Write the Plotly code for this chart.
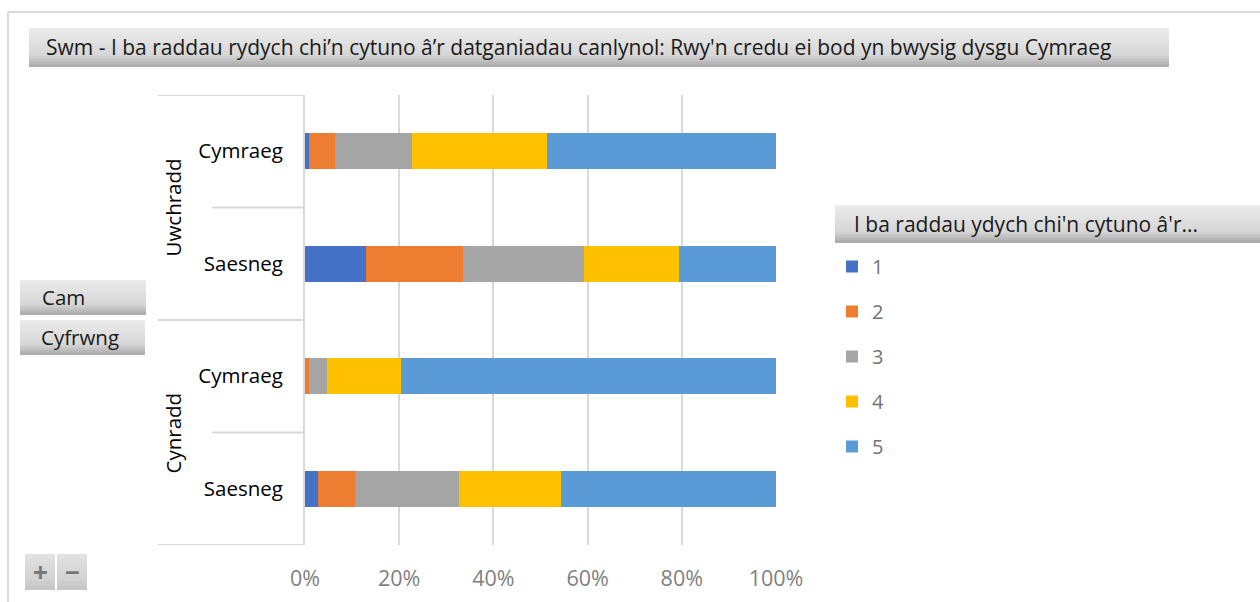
import plotly.graph_objects as go

# ---- data ----
groups = ["Uwchradd", "Cynradd"]
media = ["Cymraeg", "Saesneg", "Cymraeg", "Saesneg"]
levels = ["1", "2", "3", "4", "5"]
s1 = [0.009, 0.129, 0.000, 0.028]
s2 = [0.054, 0.206, 0.009, 0.078]
s3 = [0.165, 0.258, 0.037, 0.220]
s4 = [0.285, 0.201, 0.157, 0.218]
s5 = [0.487, 0.206, 0.797, 0.456]
series = [s1, s2, s3, s4, s5]
colors = ["#4472C4", "#ED7D31", "#A5A5A5", "#FFC000", "#5B9BD5"]
x_ticks = [0, 0.2, 0.4, 0.6, 0.8, 1.0]

title_text = "Swm - I ba raddau rydych chi\u2019n cytuno \u00e2\u2019r datganiadau canlynol: Rwy'n credu ei bod yn bwysig dysgu Cymraeg"
legend_title = "I ba raddau ydych chi'n cytuno \u00e2'r..."

W, H = 1260, 602
FONT = "Open Sans"


def px(x):
    return x / W


def py(y):
    return 1 - y / H


positions = list(range(len(media)))

fig = go.Figure()
for name, vals, col in zip(levels, series, colors):
    fig.add_trace(go.Bar(
        x=vals, y=positions, orientation="h", name=name,
        marker=dict(color=col, line=dict(width=0)),
        width=0.32, legendgroup=name,
    ))

shapes = []
annotations = []


def lerp(c1, c2, t):
    return "#%02x%02x%02x" % tuple(int(round(a + (b - a) * t)) for a, b in zip(c1, c2))


def button(x0, y0, x1, y1, top=(0xec, 0xec, 0xec), mid=(0xd6, 0xd6, 0xd6), bot=(0xa8, 0xa6, 0xa6), n=14):
    h = y1 - y0
    for i in range(n):
        t = (i + 0.5) / n
        if t < 0.7:
            c = lerp(top, mid, t / 0.7)
        else:
            c = lerp(mid, bot, (t - 0.7) / 0.3)
        ya = y0 + h * i / n
        yb = y0 + h * (i + 1) / n + 0.6
        shapes.append(dict(type="rect", xref="paper", yref="paper",
                           x0=px(x0), x1=px(x1), y0=py(ya), y1=py(min(yb, y1)),
                           fillcolor=c, line=dict(width=0), layer="below"))


# outer chart border
shapes.append(dict(type="line", xref="paper", yref="paper", x0=px(8), x1=1, y0=py(12), y1=py(12),
                   line=dict(color="#d9d9d9", width=2)))
shapes.append(dict(type="line", xref="paper", yref="paper", x0=px(8), x1=px(8), y0=py(12), y1=0,
                   line=dict(color="#d9d9d9", width=2)))

# title button
button(29, 28, 1169, 67)
annotations.append(dict(text=title_text, xref="paper", yref="paper", x=px(44), y=py(47),
                        xanchor="left", yanchor="middle", showarrow=False,
                        font=dict(family=FONT, size=21, color="#1a1a1a")))

# legend header button
button(835, 205, 1260, 243)
annotations.append(dict(text=legend_title, xref="paper", yref="paper", x=px(852), y=py(224),
                        xanchor="left", yanchor="middle", showarrow=False,
                        font=dict(family=FONT, size=21, color="#1a1a1a")))

# field buttons
button(20, 280, 146, 315)
annotations.append(dict(text="Cam", xref="paper", yref="paper", x=px(40), y=py(297),
                        xanchor="left", yanchor="middle", showarrow=False,
                        font=dict(family=FONT, size=20.5, color="#1a1a1a")))
button(20, 320, 145, 355)
annotations.append(dict(text="Cyfrwng", xref="paper", yref="paper", x=px(39), y=py(337),
                        xanchor="left", yanchor="middle", showarrow=False,
                        font=dict(family=FONT, size=20.5, color="#1a1a1a")))

# +/- buttons
button(25, 554, 55, 590, top=(0xe2, 0xe2, 0xe2), mid=(0xd2, 0xd2, 0xd2), bot=(0xc4, 0xc4, 0xc4), n=8)
button(57, 554, 87, 590, top=(0xe2, 0xe2, 0xe2), mid=(0xd2, 0xd2, 0xd2), bot=(0xc4, 0xc4, 0xc4), n=8)
annotations.append(dict(text="<b>+</b>", xref="paper", yref="paper", x=px(40), y=py(572),
                        xanchor="center", yanchor="middle", showarrow=False,
                        font=dict(family=FONT, size=26, color="#777777")))
annotations.append(dict(text="<b>\u2212</b>", xref="paper", yref="paper", x=px(72), y=py(572),
                        xanchor="center", yanchor="middle", showarrow=False,
                        font=dict(family=FONT, size=26, color="#777777")))

# multi-level category separators
sep = dict(color="#d9d9d9", width=2)
for yv in [-0.5, 1.5, 3.5]:
    shapes.append(dict(type="line", xref="paper", yref="y", x0=px(158), x1=px(305), y0=yv, y1=yv, line=sep))
for yv in [0.5, 2.5]:
    shapes.append(dict(type="line", xref="paper", yref="y", x0=px(212), x1=px(305), y0=yv, y1=yv, line=sep))

# group labels
for gi, g in enumerate(groups):
    annotations.append(dict(text=g, xref="paper", yref="y", x=px(172), y=gi * 2 + 0.5,
                            xanchor="center", yanchor="middle", textangle=-90, showarrow=False,
                            font=dict(family=FONT, size=20.5, color="#000000")))

fig.update_layout(
    width=W, height=H,
    margin=dict(l=0, r=0, t=0, b=0, pad=0, autoexpand=False),
    paper_bgcolor="white", plot_bgcolor="white",
    barmode="stack", bargap=0.68,
    showlegend=True,
    legend=dict(x=px(832), y=py(247), xanchor="left", yanchor="top",
                traceorder="grouped", tracegroupgap=16,
                font=dict(family=FONT, size=20, color="#737373"),
                bgcolor="rgba(0,0,0,0)"),
    shapes=shapes, annotations=annotations,
    xaxis=dict(domain=[px(305), px(776)], range=[0, 1.0], tickvals=x_ticks, tickformat=".0%",
               showgrid=True, gridcolor="#d9d9d9", gridwidth=2, zeroline=False, showline=False,
               ticks="", ticklabelstandoff=18, automargin=False,
               tickfont=dict(family=FONT, size=21.5, color="#7f7f7f"), fixedrange=True),
    yaxis=dict(domain=[py(545), py(95)], range=[3.5, -0.5], tickvals=positions, ticktext=media,
               showgrid=False, zeroline=False, showline=True, linecolor="#d9d9d9", linewidth=2,
               ticks="", ticklabelstandoff=16, automargin=False,
               tickfont=dict(family=FONT, size=20.5, color="#000000"), fixedrange=True),
    font=dict(family=FONT),
)

fig.write_html("out.html", config={"displayModeBar": False},
               post_script="document.body.style.margin='0';document.body.style.overflow='hidden';")
